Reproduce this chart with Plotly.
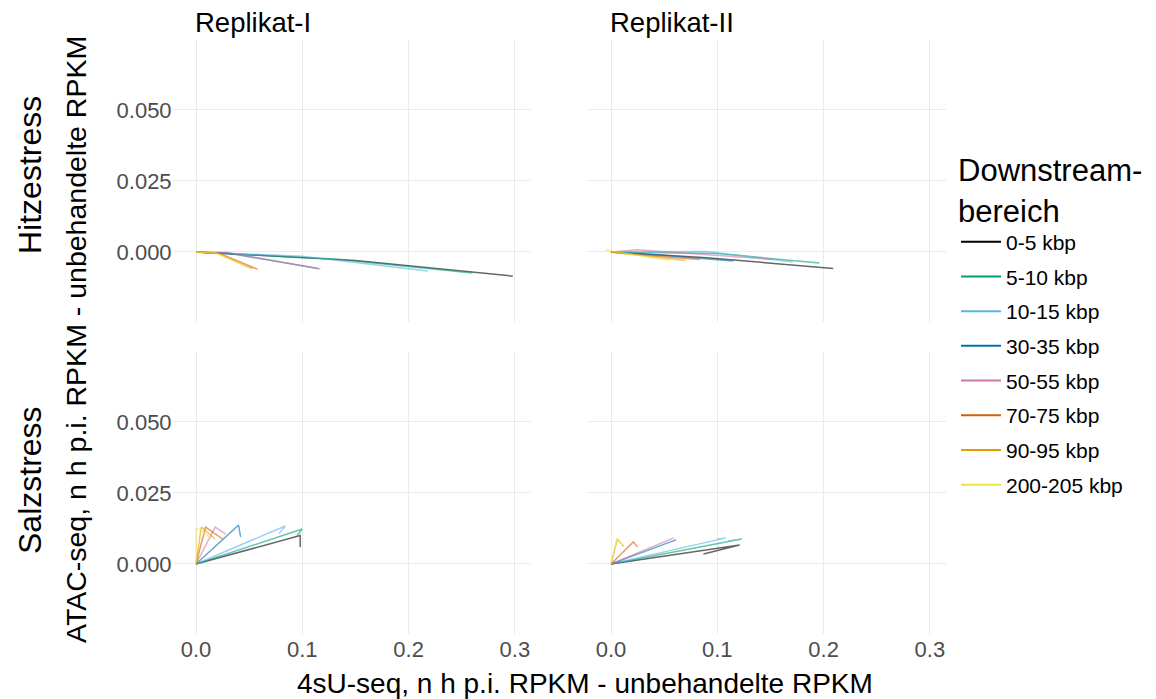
import plotly.graph_objects as go

W, H = 1156, 699

categories = ["0-5 kbp", "5-10 kbp", "10-15 kbp", "30-35 kbp",
              "50-55 kbp", "70-75 kbp", "90-95 kbp", "200-205 kbp"]
colors = ["#000000", "#009E73", "#56B4E9", "#0072B2",
          "#CC79A7", "#D55E00", "#E69F00", "#F0E442"]

rows = ["Hitzestress", "Salzstress"]
cols = ["Replikat-I", "Replikat-II"]
x_ticks = [0.0, 0.1, 0.2, 0.3]
x_tick_labels = ["0.0", "0.1", "0.2", "0.3"]
y_ticks = [0.0, 0.025, 0.05]
y_tick_labels = ["0.000", "0.025", "0.050"]

# Hitzestress, Replikat-I
heat_r1_x = [
    [0, 0.150, 0.298],
    [0, 0.130, 0.260],
    [0, 0.100, 0.218],
    [0, 0.030, 0.115],
    [0, 0.030, 0.117],
    [0, 0.022, 0.058],
    [0, 0.020, 0.053],
    [0, 0.018, 0.050],
]
heat_r1_y = [
    [0, -0.0030, -0.0085],
    [0, -0.0025, -0.0074],
    [0, -0.0015, -0.0067],
    [0, -0.0004, -0.0058],
    [0, -0.0002, -0.0060],
    [0, -0.0005, -0.0061],
    [0, -0.0004, -0.0059],
    [0, -0.0003, -0.0056],
]
# Hitzestress, Replikat-II
heat_r2_x = [
    [0, 0.090, 0.209],
    [0, 0.100, 0.196],
    [0, 0.090, 0.171],
    [0, 0.050, 0.115],
    [0, 0.025, 0.152],
    [0, 0.020, 0.0835],
    [0, 0.015, 0.070],
    [0, -0.005, 0.055],
]
heat_r2_y = [
    [0, -0.0020, -0.0058],
    [0, -0.0005, -0.0039],
    [0, 0.0002, -0.0035],
    [0, -0.0012, -0.0032],
    [0, 0.0008, -0.0026],
    [0, -0.0008, -0.0026],
    [0, -0.0006, -0.0030],
    [0, 0.0007, -0.0030],
]
# Salzstress, Replikat-I
salt_r1_x = [
    [0, 0.098, 0.098],
    [0, 0.100, 0.095],
    [0, 0.084, 0.078],
    [0, 0.040, 0.042],
    [0, 0.018, 0.028],
    [0, 0.009, 0.025],
    [0, 0.005, 0.018],
    [0, 0.000, 0.013],
]
salt_r1_y = [
    [0, 0.0100, 0.0060],
    [0, 0.0123, 0.0100],
    [0, 0.0134, 0.0106],
    [0, 0.0137, 0.0095],
    [0, 0.0130, 0.0105],
    [0, 0.0130, 0.0088],
    [0, 0.0130, 0.0088],
    [0, 0.0128, 0.0095],
]
# Salzstress, Replikat-II
salt_r2_x = [
    [0, 0.121, 0.087],
    [0, 0.123, 0.110],
    [0, 0.108, 0.100],
    [0, 0.061, 0.058],
    [0, 0.059, 0.056],
    [0, 0.021, 0.025],
    [0, 0.006, 0.012],
    [0, 0.0056, 0.011],
]
salt_r2_y = [
    [0, 0.0067, 0.0035],
    [0, 0.0088, 0.0080],
    [0, 0.0092, 0.0088],
    [0, 0.0085, 0.0080],
    [0, 0.0092, 0.0087],
    [0, 0.0078, 0.0060],
    [0, 0.0088, 0.0062],
    [0, 0.0088, 0.0068],
]

x_range = [-0.022, 0.315]
y_range = [-0.0246, 0.0746]

FONT = "Liberation Sans, Arial, sans-serif"


def hex_rgba(h, a):
    h = h.lstrip("#")
    return "rgba(%d,%d,%d,%.2f)" % (int(h[0:2], 16), int(h[2:4], 16), int(h[4:6], 16), a)


fig = go.Figure()

panels = [
    ("x", "y", heat_r1_x, heat_r1_y),
    ("x2", "y2", heat_r2_x, heat_r2_y),
    ("x3", "y3", salt_r1_x, salt_r1_y),
    ("x4", "y4", salt_r2_x, salt_r2_y),
]
for xa, ya, xs, ys in panels:
    for i, cat in enumerate(categories):
        fig.add_trace(go.Scatter(
            x=xs[i], y=ys[i], mode="lines", xaxis=xa, yaxis=ya,
            line=dict(color=hex_rgba(colors[i], 0.6), width=1.5),
            showlegend=False, hoverinfo="skip", name=cat))

# legend entries (full colour, no visible data)
for i, cat in enumerate(categories):
    fig.add_trace(go.Scatter(
        x=[None], y=[None], mode="lines", xaxis="x", yaxis="y",
        line=dict(color=colors[i], width=2), name=cat,
        legendgroup="g%d" % i, showlegend=True))


def px_x(p):
    return p / W


def px_y(p):
    return 1 - p / H


xd1 = [px_x(196 + x_range[0] * 1063), px_x(196 + x_range[1] * 1063)]
xd2 = [px_x(611 + x_range[0] * 1063), px_x(611 + x_range[1] * 1063)]
yd1 = [px_y(252 - y_range[0] * 2840), px_y(252 - y_range[1] * 2840)]
yd2 = [px_y(564 - y_range[0] * 2840), px_y(564 - y_range[1] * 2840)]

grid = "#EBEBEB"
tickfont = dict(family=FONT, size=22, color="#4D4D4D")


def xaxis(domain, anchor, labels):
    return dict(domain=domain, anchor=anchor, range=x_range, tickvals=x_ticks,
                ticktext=x_tick_labels, showticklabels=labels, showgrid=True,
                gridcolor=grid, gridwidth=1.2, zeroline=False, showline=False,
                ticks="", tickfont=tickfont)


def yaxis(domain, anchor, labels):
    return dict(domain=domain, anchor=anchor, range=y_range, tickvals=y_ticks,
                ticktext=y_tick_labels, showticklabels=labels, showgrid=True,
                gridcolor=grid, gridwidth=1.2, zeroline=False, showline=False,
                ticks="", tickfont=tickfont)


fig.update_layout(
    width=W, height=H,
    margin=dict(l=0, r=0, t=0, b=0),
    paper_bgcolor="white", plot_bgcolor="white",
    font=dict(family=FONT, color="#1A1A1A"),
    xaxis=xaxis(xd1, "y", False),
    yaxis=yaxis(yd1, "x", True),
    xaxis2=xaxis(xd2, "y2", False),
    yaxis2=yaxis(yd1, "x2", False),
    xaxis3=xaxis(xd1, "y3", True),
    yaxis3=yaxis(yd2, "x3", True),
    xaxis4=xaxis(xd2, "y4", True),
    yaxis4=yaxis(yd2, "x4", False),
    legend=dict(
        x=px_x(956), y=px_y(141), xanchor="left", yanchor="top",
        title=dict(text="Downstream-<br>bereich", font=dict(family=FONT, size=31, color="#000000")),
        font=dict(family=FONT, size=21, color="#000000"),
        itemwidth=40, tracegroupgap=4.4, bgcolor="rgba(0,0,0,0)"),
    showlegend=True,
)

ann = []
ann.append(dict(text=cols[0], x=px_x(193), y=px_y(22), xanchor="left", yanchor="middle",
                font=dict(family=FONT, size=27.5, color="#000000")))
ann.append(dict(text=cols[1], x=px_x(608), y=px_y(22), xanchor="left", yanchor="middle",
                font=dict(family=FONT, size=27.5, color="#000000")))
ann.append(dict(text=rows[0], x=px_x(30), y=px_y(175), xanchor="center", yanchor="middle",
                textangle=-90, font=dict(family=FONT, size=32, color="#000000")))
ann.append(dict(text=rows[1], x=px_x(30), y=px_y(480), xanchor="center", yanchor="middle",
                textangle=-90, font=dict(family=FONT, size=32, color="#000000")))
ann.append(dict(text="ATAC-seq, n h p.i. RPKM - unbehandelte RPKM", x=px_x(76), y=px_y(340),
                xanchor="center", yanchor="middle", textangle=-90,
                font=dict(family=FONT, size=28.5, color="#000000")))
ann.append(dict(text="4sU-seq, n h p.i. RPKM - unbehandelte RPKM", x=px_x(585), y=px_y(683),
                xanchor="center", yanchor="middle",
                font=dict(family=FONT, size=28, color="#000000")))
for a in ann:
    a.update(xref="paper", yref="paper", showarrow=False)
fig.update_layout(annotations=ann)

fig.write_html("out.html")
